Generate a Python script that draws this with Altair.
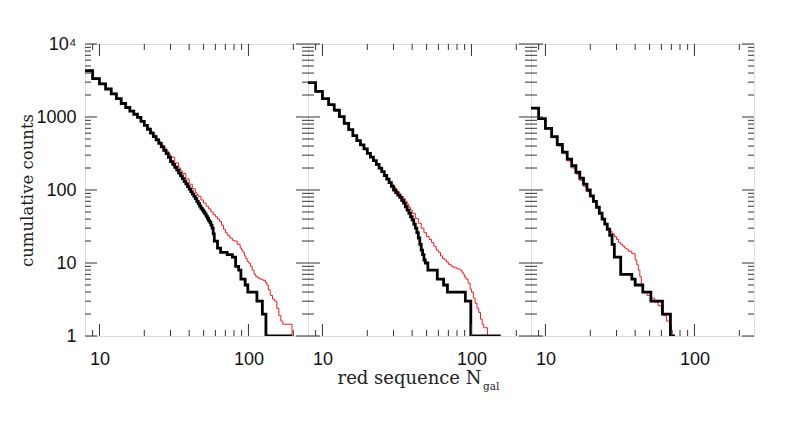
import altair as alt
import pandas as pd

# ---------------- data ----------------
# Panel 1
P1_BLACK_N = [8, 9, 10, 11, 12, 13, 14, 15, 16, 17, 18, 19, 20, 21, 22, 23, 24, 25, 26, 27,
              28, 29, 30, 31, 32, 33, 34, 35, 36, 37, 38, 39, 40, 41, 42, 43, 44, 45, 46, 47,
              48, 49, 50, 51, 52, 53, 54, 55, 56, 57, 58, 59, 62, 65, 72, 78, 82, 86, 89, 95,
              99, 114, 124, 131, 196]
P1_BLACK_C = [4300, 3350, 2850, 2420, 2080, 1780, 1530, 1350, 1200, 1090, 990, 870, 770, 680, 600, 540, 485, 435, 390, 350,
              315, 280, 245, 225, 205, 187, 170, 156, 143, 131, 121, 111, 103, 95, 88, 82, 76, 70, 65, 60,
              56, 53, 50, 47, 44, 41, 38, 36, 33, 30, 25, 20, 16, 14, 13, 12, 9, 8, 6, 5,
              4, 3, 2, 1, 1]
P1_RED_N = [8, 9, 10, 11, 12, 13, 14, 15, 16, 17, 18, 19, 20, 21, 22, 23, 24, 25, 26, 27,
            28, 29, 30, 32, 34, 35, 36, 38, 40, 42, 44, 45, 46, 48, 50, 52, 54, 56, 58, 60,
            62, 64, 66, 68, 70, 72, 75, 78, 80, 84, 88, 90, 92, 94, 96, 98, 100, 103, 106, 109,
            112, 116, 120, 125, 130, 133, 136, 140, 145, 150, 155, 160, 165, 170, 196]
P1_RED_C = [4400, 3420, 2900, 2470, 2120, 1820, 1570, 1380, 1230, 1110, 1005, 890, 790, 705, 625, 565, 508, 458, 413, 376,
            342, 310, 282, 236, 200, 183, 168, 142, 120, 104, 92, 87, 82, 73, 66, 60, 55, 50, 46, 43,
            40, 37, 33, 29, 26, 24, 22, 20.5, 20, 18, 16, 15, 14, 12.5, 11.5, 10.5, 10, 9, 8, 7,
            6.5, 6.2, 6, 5.8, 5.4, 5, 4.3, 3.6, 3.2, 3, 2.4, 1.9, 1.6, 1.45, 1]

# Panel 2
P2_BLACK_N = [8, 9, 10, 11, 12, 13, 14, 15, 16, 17, 18, 19, 20, 21, 22, 23, 24, 25, 26, 27,
              28, 29, 30, 31, 32, 33, 34, 35, 36, 37, 38, 39, 40, 41, 42, 43, 44, 45, 46, 47,
              48, 49, 51, 59, 65, 69, 91, 99, 157]
P2_BLACK_C = [2950, 2250, 1780, 1480, 1240, 1010, 820, 670, 555, 475, 415, 365, 318, 282, 252, 225, 200, 178, 158, 141,
              126, 112, 100, 92, 85, 79, 72, 66, 59, 53, 48, 43, 39, 34, 30, 26, 22, 18, 15, 13,
              11, 10, 8, 6, 5, 4, 3, 1, 1]
P2_RED_N = [8, 9, 10, 11, 12, 13, 14, 15, 16, 17, 18, 19, 20, 21, 22, 23, 24, 25, 26, 27,
            28, 29, 30, 31, 32, 33, 34, 35, 36, 37, 38, 39, 40, 42, 44, 46, 48, 50, 52, 54,
            56, 58, 60, 62, 64, 66, 68, 70, 73, 76, 80, 84, 86, 88, 90, 92, 95, 98, 100, 103,
            106, 109, 112, 115, 118, 121, 128]
P2_RED_C = [2900, 2200, 1740, 1440, 1200, 985, 800, 655, 545, 468, 408, 360, 315, 280, 251, 225, 202, 181, 161, 145,
            130, 120, 110, 101, 94, 87, 81, 76, 70, 64, 58, 53, 48, 41, 35, 30, 26, 23, 21, 19,
            17, 15, 14, 12.5, 11.5, 11, 10.3, 9.6, 9, 8.6, 8.3, 8, 7.5, 7, 6.4, 6, 5.3, 4.4, 4, 3.3,
            2.8, 2.4, 2.1, 1.7, 1.45, 1.3, 1]

# Panel 3
P3_BLACK_N = [8, 9, 10, 11, 12, 13, 14, 15, 16, 17, 18, 19, 20, 21, 22, 23, 24, 25, 26, 27,
              28, 29, 32, 38, 40, 45, 51, 61, 69, 74]
P3_BLACK_C = [1320, 950, 700, 540, 420, 330, 265, 215, 175, 145, 120, 100, 83, 70, 58, 48, 40, 34, 29, 24,
              18, 12, 7, 6, 5, 4, 3, 2, 1, 1]
P3_RED_N = [8, 9, 10, 11, 12, 13, 14, 15, 16, 17, 18, 19, 20, 21, 22, 23, 24, 25, 26, 27,
            28, 29, 30, 31, 32, 33, 34, 35, 36, 38, 40, 41, 42, 43, 44, 45, 48, 51, 54, 57,
            60, 62, 65, 68, 70, 71]
P3_RED_C = [1300, 930, 680, 520, 400, 315, 250, 200, 165, 135, 112, 95, 80, 68, 57, 48, 41, 35, 30, 27,
            25, 23, 21, 19, 18, 17, 16, 15.5, 14.5, 13.4, 11, 9.5, 8, 6.5, 5, 4, 3.6, 3.3, 2.9, 2.6,
            2.2, 1.9, 1.6, 1.35, 1.2, 1]

# axes
X_DOMAIN = [8, 251]
Y_DOMAIN = [1, 10000]
X_LABELS = [10, 100]
X_MINOR = [9, 20, 30, 40, 50, 60, 70, 80, 90, 200]
Y_MAJOR = [1, 10, 100, 1000, 10000]
Y_MINOR = [2, 3, 4, 5, 6, 7, 8, 9,
           20, 30, 40, 50, 60, 70, 80, 90,
           200, 300, 400, 500, 600, 700, 800, 900,
           2000, 3000, 4000, 5000, 6000, 7000, 8000, 9000]
X_TITLE = "red sequence N"
X_TITLE_SUB = "gal"
Y_TITLE = "cumulative counts"

# ---------------- chart ----------------
W, H = 223, 292
MAJ, MIN = 12, 6
AXIS_COLOR = "#333333"

xs = alt.Scale(type="log", domain=X_DOMAIN, nice=False)
ys = alt.Scale(type="log", domain=Y_DOMAIN, nice=False)


def make_x_axis(with_title):
    kw = dict(values=X_LABELS, format="d", ticks=False, domain=False, grid=False,
              labelFont="Liberation Sans", labelFontSize=18, labelColor="#111111",
              labelPadding=14, labelFlush=False)
    if with_title:
        kw.update(title=X_TITLE, titleFont="DejaVu Serif", titleFontSize=18,
                  titleFontWeight="normal", titleColor="#222222", titlePadding=1,
                  titleX=173, titleAlign="right")
    else:
        kw.update(title=None)
    return alt.Axis(**kw)


def make_y_axis():
    return alt.Axis(values=Y_MAJOR, ticks=False, domain=False, grid=False,
                    labelExpr="datum.value >= 10000 ? '10⁴' : format(datum.value, 'd')",
                    labelFont="Liberation Sans", labelFontSize=18, labelColor="#111111",
                    labelPadding=9, title=Y_TITLE, titleFont="DejaVu Serif",
                    titleFontSize=16.5, titleFontWeight="normal", titleColor="#222222",
                    titlePadding=0)


def panel(bn, bc, rn, rc, left, middle):
    xax = make_x_axis(middle)
    yax = make_y_axis() if left else None

    def X(field):
        return alt.X(field, scale=xs, axis=xax)

    def Y(field):
        if yax is None:
            return alt.Y(field, scale=ys, axis=None)
        return alt.Y(field, scale=ys, axis=yax)

    red = alt.Chart(pd.DataFrame({"n": rn, "c": rc})).mark_line(
        interpolate="step-after", color="#ff1a1a", strokeWidth=1, clip=True
    ).encode(x=X("n:Q"), y=Y("c:Q"))
    black = alt.Chart(pd.DataFrame({"n": bn, "c": bc})).mark_line(
        interpolate="step-after", color="black", strokeWidth=2.8, clip=True
    ).encode(x=X("n:Q"), y=Y("c:Q"))

    layers = [red, black]

    def xt(vals, length, top):
        d = pd.DataFrame({"v": vals})
        if top:
            yy, yy2 = alt.value(0), alt.value(length)
        else:
            yy, yy2 = alt.value(H), alt.value(H - length)
        return alt.Chart(d).mark_rule(color=AXIS_COLOR, strokeWidth=1).encode(
            x=X("v:Q"), y=yy, y2=yy2)

    def yt(vals, length, right):
        d = pd.DataFrame({"v": vals})
        if right:
            xx, xx2 = alt.value(W), alt.value(W - length)
        else:
            xx, xx2 = alt.value(0), alt.value(length)
        return alt.Chart(d).mark_rule(color=AXIS_COLOR, strokeWidth=1).encode(
            y=Y("v:Q"), x=xx, x2=xx2)

    layers += [xt(X_LABELS, MAJ, False), xt(X_MINOR, MIN, False),
               xt(X_LABELS, MAJ, True), xt(X_MINOR, MIN, True),
               yt(Y_MAJOR, MAJ, False), yt(Y_MINOR, MIN, False),
               yt(Y_MAJOR, MAJ, True), yt(Y_MINOR, MIN, True)]

    if middle:
        sub = alt.Chart(pd.DataFrame({"t": [X_TITLE_SUB]})).mark_text(
            align="left", baseline="alphabetic", font="DejaVu Serif", fontSize=10.5,
            color="#222222"
        ).encode(text="t:N", x=alt.value(175), y=alt.value(346))
        layers.append(sub)

    return alt.layer(*layers).properties(width=W, height=H)


p1 = panel(P1_BLACK_N, P1_BLACK_C, P1_RED_N, P1_RED_C, left=True, middle=False)
p2 = panel(P2_BLACK_N, P2_BLACK_C, P2_RED_N, P2_RED_C, left=False, middle=True)
p3 = panel(P3_BLACK_N, P3_BLACK_C, P3_RED_N, P3_RED_C, left=False, middle=False)

chart = alt.hconcat(p1, p2, p3, spacing=0, bounds="flush").properties(
    padding={"left": 11, "top": 26, "right": 5, "bottom": 5}
).configure_view(stroke=AXIS_COLOR, strokeWidth=1).configure(background="white")

chart.save("out.html", embed_options={"renderer": "svg", "actions": False})
